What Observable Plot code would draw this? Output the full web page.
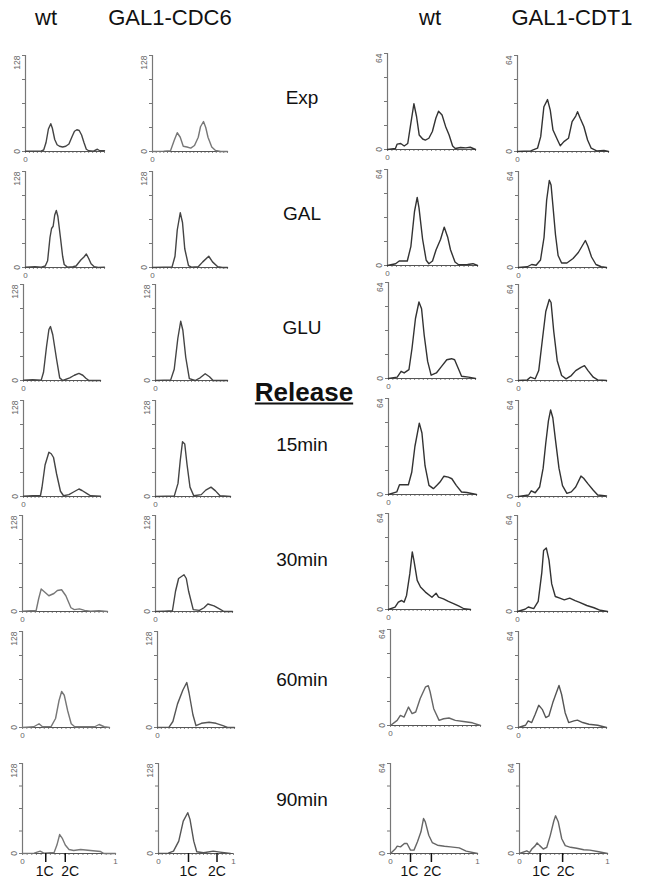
<!DOCTYPE html>
<html>
<head>
<meta charset="utf-8">
<script src="https://cdn.jsdelivr.net/npm/d3@7"></script>
<script src="https://cdn.jsdelivr.net/npm/@observablehq/plot@0.6"></script>
<style>
  html, body { margin: 0; padding: 0; background: #fff; }
  #fig { position: relative; width: 647px; height: 881px; overflow: hidden; font-family: "Liberation Sans", Arial, sans-serif; }
  .hdr { position: absolute; font-size: 22px; color: #111; transform: translate(-50%, -50%); white-space: nowrap; }
  .lab { position: absolute; font-size: 19px; color: #111; transform: translate(-50%, -50%); white-space: nowrap; }
  .rel { position: absolute; font-size: 26px; font-weight: bold; text-decoration: underline; color: #111; transform: translate(-50%, -50%); white-space: nowrap; }
</style>
</head>
<body>
<div id="fig"></div>
<script>
// ---------------- DATA ----------------
const columnHeaders = ["wt", "GAL1-CDC6", "wt", "GAL1-CDT1"];
const rowLabels = ["Exp", "GAL", "GLU", "15min", "30min", "60min", "90min"];
const releaseLabel = "Release";
const yMax = [128, 128, 64, 64];
const yTickValues = { 128: [0, 32, 64, 96, 128], 64: [0, 16, 32, 48, 64] };
const dnaLabels = ["1C", "2C"];
const dnaPositions = [[0.25, 0.46], [0.40, 0.78], [0.23, 0.47], [0.235, 0.49]];

// DNA content histograms: [relative DNA content, cell count]
const wtCDC6 = [
  [[0,0.5],[0.1,0.5],[0.2,0.8],[0.23,2],[0.26,12],[0.29,30],[0.32,37],[0.34,31],[0.37,16],[0.40,9],[0.43,7],[0.47,6],[0.51,7],[0.55,10],[0.59,20],[0.62,27],[0.65,29],[0.68,28],[0.71,22],[0.74,12],[0.77,3],[0.80,1],[0.86,0.5],[0.91,3],[0.94,1],[1,1]],
  [[0,0.5],[0.12,1],[0.2,0.5],[0.25,2],[0.28,9],[0.31,40],[0.33,52],[0.35,55],[0.37,70],[0.39,76],[0.41,68],[0.44,42],[0.47,15],[0.49,4],[0.53,0.5],[0.6,1],[0.64,2],[0.67,6],[0.70,10],[0.74,14],[0.77,18],[0.80,12],[0.83,5],[0.87,1],[0.92,0],[1,0.5]],
  [[0,0.5],[0.12,1],[0.23,0.5],[0.26,11],[0.30,46],[0.33,68],[0.35,72],[0.38,61],[0.43,28],[0.47,3.5],[0.51,0],[0.6,3.5],[0.66,7],[0.72,9.5],[0.77,7],[0.81,3],[0.85,0],[1,0]],
  [[0,0.5],[0.12,1],[0.22,1],[0.24,12],[0.28,42],[0.33,59],[0.36,57],[0.39,52],[0.43,30],[0.48,7],[0.52,1],[0.59,2.5],[0.65,6],[0.72,10],[0.76,8],[0.83,3.5],[0.87,1],[1,0.5]],
  [[0,0.5],[0.1,1],[0.16,1],[0.19,17],[0.22,30],[0.27,25],[0.31,21],[0.37,24],[0.41,28],[0.46,29],[0.51,21],[0.57,5],[0.61,2.5],[0.67,3.5],[0.73,1.5],[0.8,0.5],[0.9,1],[1,0]],
  [[0,0],[0.13,1],[0.19,5],[0.23,1],[0.33,1.5],[0.38,12],[0.42,36],[0.45,48],[0.48,43],[0.52,22],[0.56,5],[0.6,1],[0.83,1],[0.88,4],[0.94,1],[1,0]],
  [[0,0],[0.125,0.5],[0.19,3.3],[0.23,0.5],[0.34,1.4],[0.37,12],[0.40,27],[0.43,21],[0.46,12],[0.5,5.7],[0.55,4.3],[0.625,5.7],[0.73,4.3],[0.84,2.8],[0.875,0],[1,0]]
];
const galCDC6 = [
  [[0,0],[0.15,0.5],[0.24,1],[0.29,15],[0.33,25],[0.37,19],[0.41,7],[0.46,6],[0.51,4.5],[0.56,8],[0.61,19],[0.64,33],[0.68,40],[0.71,32],[0.74,19],[0.79,6],[0.84,1.4],[0.91,0],[1,0]],
  [[0,0],[0.15,0.5],[0.26,0.5],[0.30,15],[0.33,50],[0.37,73],[0.40,60],[0.43,25],[0.48,2.5],[0.52,0.5],[0.61,1],[0.67,7.5],[0.75,15],[0.80,7.5],[0.87,1],[0.93,0],[1,0]],
  [[0,0],[0.12,0.5],[0.21,0.5],[0.26,15],[0.31,56],[0.35,79],[0.38,67],[0.42,31],[0.47,2.5],[0.55,0],[0.62,3.6],[0.69,9],[0.75,5],[0.8,0],[1,0]],
  [[0,0],[0.15,0.5],[0.25,0.5],[0.30,17.5],[0.33,48],[0.36,73],[0.39,70],[0.42,43],[0.46,12.5],[0.51,1],[0.61,2.5],[0.67,8.5],[0.74,12.5],[0.8,7.5],[0.86,1],[1,0]],
  [[0,0],[0.12,0.5],[0.22,1],[0.26,27],[0.30,44],[0.37,49],[0.40,44],[0.43,27],[0.49,2.5],[0.57,1.5],[0.63,5],[0.68,10],[0.76,7.4],[0.83,3.4],[0.89,0],[1,0]],
  [[0,0],[0.15,0.5],[0.2,8],[0.26,31.5],[0.33,50],[0.38,60],[0.41,46],[0.46,17],[0.5,2.4],[0.57,5.6],[0.67,7],[0.76,5.6],[0.85,2.4],[0.91,0],[1,0]],
  [[0,0],[0.13,0.5],[0.2,3.3],[0.27,17.6],[0.33,46],[0.39,58],[0.42,48.5],[0.47,17.6],[0.51,2.4],[0.6,1],[0.73,3.3],[0.82,2],[0.96,0]]
];
const wtCDT1 = [
  [[0,0],[0.09,0.7],[0.11,3.6],[0.15,4],[0.19,2.3],[0.23,4],[0.26,15.4],[0.30,30.5],[0.33,22],[0.36,9.7],[0.40,7],[0.43,6.3],[0.47,7.5],[0.51,12],[0.55,21],[0.58,25.5],[0.62,23],[0.66,15.4],[0.70,9.7],[0.74,2.3],[0.77,0.7],[0.83,1.3],[0.89,1.1],[0.94,1.5],[1,0]],
  [[0,0],[0.09,1.2],[0.13,3],[0.22,3],[0.26,12.8],[0.30,36],[0.33,45.4],[0.35,38.4],[0.39,17.5],[0.43,3.5],[0.46,1.2],[0.50,3],[0.54,10.5],[0.59,17.5],[0.63,25.6],[0.67,18.6],[0.70,10.5],[0.75,2.3],[0.79,0.5],[0.89,0.7],[0.95,1.2],[1,0]],
  [[0,0],[0.1,0.9],[0.145,4.8],[0.18,3.7],[0.235,5.9],[0.27,20],[0.31,40],[0.35,51],[0.38,46.5],[0.41,29],[0.45,11.4],[0.49,2.2],[0.55,3.7],[0.61,8.1],[0.67,12.5],[0.725,13.2],[0.76,12.5],[0.8,7],[0.84,1.5],[0.92,0.9],[1,0]],
  [[0,0],[0.094,1.7],[0.125,6.5],[0.226,6.5],[0.264,14.8],[0.30,32],[0.35,47.6],[0.38,41],[0.415,19.2],[0.46,6.1],[0.51,3.9],[0.55,6.1],[0.585,8.3],[0.63,12.2],[0.68,11.6],[0.72,10.5],[0.77,6.1],[0.83,1.7],[0.89,1.3],[1,0]],
  [[0,0],[0.08,1.6],[0.12,4.9],[0.16,6],[0.19,4.9],[0.22,9.4],[0.26,23.9],[0.29,38.4],[0.31,32.8],[0.35,19.4],[0.39,15],[0.45,11.6],[0.53,8.2],[0.58,10.9],[0.61,8.2],[0.67,7.1],[0.73,5.4],[0.8,3.8],[0.86,2.2],[0.92,0.5],[1,0]],
  [[0,0],[0.074,3.4],[0.11,6.7],[0.15,5.6],[0.2,12.3],[0.24,7.9],[0.28,9],[0.33,18],[0.39,25.8],[0.42,26.5],[0.44,22.5],[0.48,11.2],[0.54,3.4],[0.59,4.5],[0.65,5],[0.72,3.4],[0.81,2.7],[0.91,1.8],[1,0]],
  [[0,0],[0.06,3.6],[0.077,5.2],[0.115,4.7],[0.16,7.1],[0.19,7.1],[0.23,2.4],[0.27,2.4],[0.31,8.3],[0.35,15.4],[0.38,24.9],[0.40,22.5],[0.44,13],[0.48,7.8],[0.54,5.9],[0.62,5.2],[0.69,4.7],[0.79,4],[0.87,1.7],[1,0]]
];
const galCDT1 = [
  [[0,0],[0.145,0.4],[0.22,2.2],[0.255,9.9],[0.29,29.8],[0.33,34.6],[0.36,27.6],[0.39,14.3],[0.44,7.7],[0.47,3.8],[0.51,6.6],[0.56,8.8],[0.60,19.9],[0.64,23.6],[0.66,26.5],[0.69,22],[0.73,16.5],[0.77,7.7],[0.81,2.2],[0.87,0.4],[0.95,0.7],[1,0]],
  [[0,0],[0.1,0.5],[0.15,2],[0.2,1.5],[0.25,5],[0.29,20],[0.32,45],[0.35,58],[0.37,55],[0.39,42],[0.42,22],[0.45,8],[0.49,3],[0.55,3],[0.62,6],[0.68,10],[0.72,14],[0.76,18],[0.79,14],[0.83,7],[0.88,2],[0.94,0.5],[1,0]],
  [[0,0],[0.1,0.4],[0.135,2.2],[0.19,1.1],[0.23,6.6],[0.27,26.5],[0.31,46],[0.35,54],[0.37,52],[0.4,33],[0.44,13.2],[0.49,3.3],[0.54,1.1],[0.6,3.3],[0.65,6.6],[0.71,8.8],[0.75,9.9],[0.79,6.6],[0.85,2.2],[0.9,0.4],[1,0]],
  [[0,0],[0.115,1],[0.145,3.8],[0.19,2.5],[0.24,6.3],[0.28,18.9],[0.31,35.7],[0.34,50.4],[0.365,57.7],[0.39,52.5],[0.42,37.8],[0.46,18.9],[0.5,7.3],[0.55,2.1],[0.6,3.1],[0.65,6.3],[0.71,13.6],[0.74,12.2],[0.79,8.4],[0.85,4.2],[0.9,1],[1,0.4]],
  [[0,0],[0.084,1.5],[0.12,3],[0.18,1.9],[0.23,6.8],[0.27,25.9],[0.29,40.7],[0.32,42.4],[0.35,34.3],[0.38,18.4],[0.42,10],[0.47,8.9],[0.52,7.8],[0.58,8.9],[0.64,7.2],[0.69,6.1],[0.77,4],[0.85,2.5],[0.92,0.8],[1,0]],
  [[0,0],[0.08,1.5],[0.11,4.4],[0.15,3.3],[0.19,8.8],[0.23,14.8],[0.27,12.1],[0.31,6.6],[0.345,7.7],[0.39,16.6],[0.43,23.2],[0.46,28],[0.49,22],[0.53,9.9],[0.57,3.3],[0.63,4.4],[0.67,4.9],[0.73,3.3],[0.8,2.2],[0.9,1.5],[1,0]],
  [[0,0],[0.083,1.9],[0.114,0.7],[0.14,3.2],[0.18,5.6],[0.2,7.5],[0.23,5.6],[0.27,3.2],[0.31,4.4],[0.35,12.9],[0.39,23.1],[0.41,26.8],[0.44,22.6],[0.48,10.5],[0.52,5.6],[0.58,4.4],[0.65,3.7],[0.73,2.7],[0.8,2.4],[0.9,1.2],[1,0]]
];
const histograms = [wtCDC6, galCDC6, wtCDT1, galCDT1];

// ---------------- LAYOUT ----------------
const rowBase = [151, 267, 380, 496, 611, 727, 853];
const rowH = [96, 96, 96, 96, 96, 96, 90];
const colDy = [0, 0, -2, 0];
const colX0 = [[25,25,23,23,22,22,22],[152,152,155,155,155,157,158],[387,387,388,388,388,390,390],[517,518,518,518,517,518,519]];
const colW = [[79,79,77,77,85,87,93],[75,75,72,75,77,77,75],[88,90,87,88,82,90,87],[91,88,88,88,90,88,88]];
const dnaLabelDx = [[-1, 5], [0, 0], [-1, 1], [1, 3]];
const lineShade = [
  ["#444","#444","#444","#444","#777","#777","#777"],
  ["#777","#444","#444","#444","#444","#555","#555"],
  ["#333","#333","#333","#333","#333","#666","#666"],
  ["#333","#333","#333","#333","#333","#555","#666"]
];
const headerPos = [[46,18],[170,18],[430,18],[572,18]];
const labelX = 302;
const labelY = [98, 214, 328, 445, 560, 680, 800];
const releasePos = [304, 392];

const fig = document.getElementById("fig");
const FONT = "Liberation Sans, Arial, sans-serif";
const ML = 16, MR = 4, MT = 6;

columnHeaders.forEach((t, i) => {
  const d = document.createElement("div");
  d.className = "hdr"; d.textContent = t;
  d.style.left = headerPos[i][0] + "px"; d.style.top = headerPos[i][1] + "px";
  fig.appendChild(d);
});
rowLabels.forEach((t, i) => {
  const d = document.createElement("div");
  d.className = "lab"; d.textContent = t;
  d.style.left = labelX + "px"; d.style.top = labelY[i] + "px";
  fig.appendChild(d);
});
{
  const d = document.createElement("div");
  d.className = "rel"; d.textContent = releaseLabel;
  d.style.left = releasePos[0] + "px"; d.style.top = releasePos[1] + "px";
  fig.appendChild(d);
}

for (let c = 0; c < 4; c++) {
  for (let r = 0; r < 7; r++) {
    const last = r === 6;
    const w = colW[c][r], h = rowH[r];
    const x0 = colX0[c][r];
    const base = rowBase[r] + (last ? 0 : colDy[c]);
    const MB = last ? 28 : 12;
    const ym = yMax[c];
    const data = histograms[c][r].map(([x, y]) => ({x, y}));
    const shade = lineShade[c][r];
    const marks = [
      Plot.axisY({ticks: yTickValues[ym], tickSize: 3, tickFormat: () => "", label: null, stroke: "#777"}),
      Plot.axisX({ticks: d3.range(0, 1.0001, 0.05), tickSize: 2, tickFormat: () => "", label: null, stroke: "#888"}),
      Plot.ruleX([0], {y1: 0, y2: ym, stroke: "#777", strokeWidth: 1.2}),
      Plot.ruleY([0], {x1: 0, x2: 1, stroke: "#555", strokeWidth: 1.2}),
      Plot.text([ym], {x: () => 0, y: d => d, text: d => String(d), rotate: -90, textAnchor: "end", dx: -8, fontSize: 8.5, fill: "#666", fontFamily: FONT}),
      Plot.text([0], {x: () => 0, y: d => d, text: d => String(d), rotate: -90, dx: -8, fontSize: 8.5, fill: "#666", fontFamily: FONT}),
      Plot.text([0], {x: d => d, y: () => 0, text: d => String(d), dy: 8, fontSize: 8, fill: "#666", fontFamily: FONT}),
      Plot.line(data, {x: "x", y: "y", stroke: shade, strokeWidth: 1.4, curve: "linear"})
    ];
    if (last) {
      const pts = dnaLabels.map((t, i) => ({x: dnaPositions[c][i], t, dx: dnaLabelDx[c][i]}));
      marks.push(
        Plot.axisX({ticks: dnaPositions[c], tickSize: 9, tickFormat: () => "", label: null, stroke: "#111", strokeWidth: 1.5}),
        Plot.text(pts.slice(0, 1), {x: "x", y: () => 0, text: "t", dy: 18, dx: pts[0].dx, fontSize: 14, fill: "#111", fontFamily: FONT}),
        Plot.text(pts.slice(1), {x: "x", y: () => 0, text: "t", dy: 18, dx: pts[1].dx, fontSize: 14, fill: "#111", fontFamily: FONT}),
        Plot.text([1], {x: d => d, y: () => 0, text: d => String(d), dy: 8, fontSize: 8, fill: "#666", fontFamily: FONT})
      );
    }
    const chart = Plot.plot({
      width: w + ML + MR, height: h + MT + MB,
      marginLeft: ML, marginRight: MR, marginTop: MT, marginBottom: MB,
      x: {domain: [0, 1]},
      y: {domain: [0, ym]},
      style: {overflow: "visible", background: "transparent", fontFamily: FONT},
      marks
    });
    chart.style.position = "absolute";
    chart.style.left = (x0 - ML) + "px";
    chart.style.top = (base - h - MT) + "px";
    chart.style.maxWidth = "none";
    fig.appendChild(chart);
  }
}
</script>
</body>
</html>
